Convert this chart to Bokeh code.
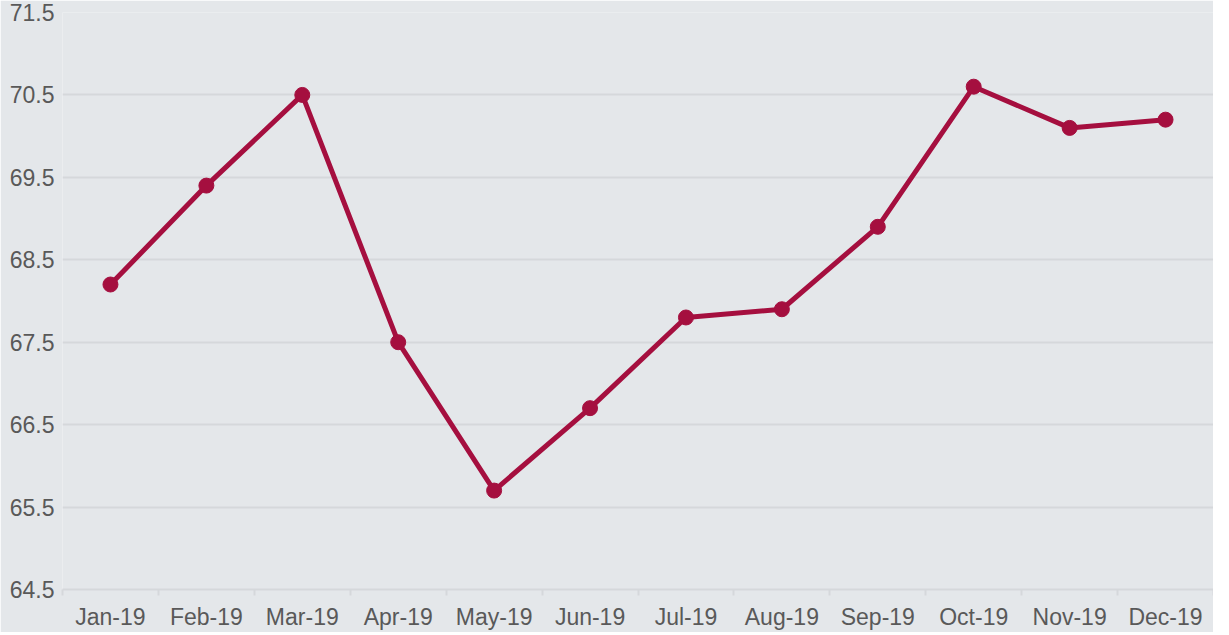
from bokeh.plotting import figure
from bokeh.models import Range1d, LinearAxis, FixedTicker
from bokeh.embed import file_html
from bokeh.resources import INLINE

months = ["Jan-19", "Feb-19", "Mar-19", "Apr-19", "May-19", "Jun-19",
          "Jul-19", "Aug-19", "Sep-19", "Oct-19", "Nov-19", "Dec-19"]
values = [68.2, 69.4, 70.5, 67.5, 65.7, 66.7, 67.8, 67.9, 68.9, 70.6, 70.1, 70.2]
y_ticks = [64.5, 65.5, 66.5, 67.5, 68.5, 69.5, 70.5, 71.5]

BG = "#e4e7ea"
GRID = "#d5d8db"
LINE = "#a50f3f"
TXT = "#595959"
FONT = "Liberation Sans"

n = len(months)
xs = list(range(1, n + 1))
boundaries = [x - 0.5 for x in xs] + [n + 0.5]

p = figure(width=1213, height=632, x_range=Range1d(0.5, n + 0.5),
           y_range=Range1d(64.5, 71.5), output_backend="svg",
           toolbar_location=None, x_axis_location=None, y_axis_location=None,
           min_border_left=62, min_border_right=0, min_border_top=12, min_border_bottom=0)
p.background_fill_color = BG
p.border_fill_color = BG
p.outline_line_color = None

xaxis = LinearAxis(ticker=FixedTicker(ticks=xs, minor_ticks=boundaries),
                   major_label_overrides={x: m for x, m in zip(xs, months)},
                   axis_line_color=GRID, axis_line_width=2,
                   major_tick_line_color=None, major_tick_in=0, major_tick_out=6,
                   minor_tick_line_color=GRID, minor_tick_line_width=2,
                   minor_tick_in=0, minor_tick_out=6,
                   major_label_standoff=8,
                   major_label_text_font=FONT, major_label_text_font_size="23px",
                   major_label_text_color=TXT)
p.add_layout(xaxis, "below")

yaxis = LinearAxis(ticker=FixedTicker(ticks=y_ticks, minor_ticks=[]),
                   axis_line_color=None, major_tick_line_color=None, minor_tick_line_color=None,
                   major_tick_in=0, major_tick_out=0,
                   major_label_standoff=8, major_label_text_font=FONT,
                   major_label_text_font_size="23px", major_label_text_color=TXT)
p.add_layout(yaxis, "left")

p.xgrid.grid_line_color = None
p.ygrid.ticker = FixedTicker(ticks=y_ticks[1:], minor_ticks=[])
p.ygrid.grid_line_color = GRID
p.ygrid.grid_line_width = 2

p.line(xs, values, line_color=LINE, line_width=5)
p.scatter(xs, values, size=15, fill_color=LINE, line_color=LINE)

open("out.html", "w").write(file_html(p, INLINE))
